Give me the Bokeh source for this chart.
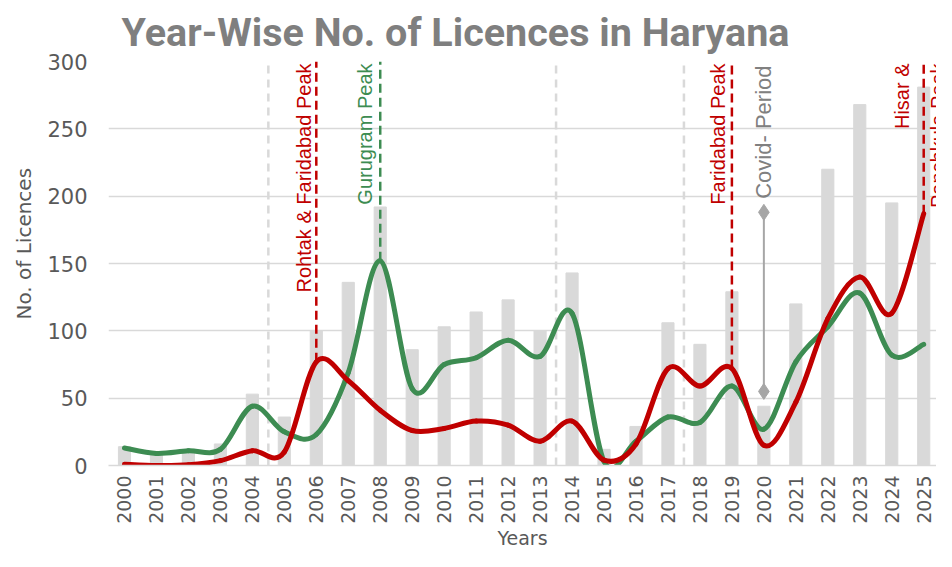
import numpy as np
from bokeh.plotting import figure
from bokeh.models import Range1d, FixedTicker, Label, ColumnDataSource, Title
from bokeh.embed import file_html
from bokeh.resources import INLINE

# ---------------- data ----------------
years = list(range(2000, 2026))
total_licences = [14, 10, 12, 16, 53, 36, 100, 136, 192, 86, 103, 114, 123,
                  100, 143, 12, 29, 106, 90, 129, 44, 120, 220, 268, 195, 281]
gurugram = [13, 9, 11, 12, 44, 25, 23, 69, 152, 57, 75, 80, 93,
            81, 113, 3, 18, 36, 32, 59, 27, 77, 103, 128, 82, 90]
faridabad = [1, 0, 0.5, 3.6, 11, 10, 77, 63, 41, 26, 27.5, 33, 30,
             18, 33, 4, 16, 72, 59, 72, 15, 47, 109, 140, 113, 187]

divider_years = [2004.5, 2013.5, 2017.5]
red_peak_years = [2006, 2019, 2025]
green_peak_years = [2008]
covid_year = 2020
covid_range = [55, 188]
y_ticks = [0, 50, 100, 150, 200, 250, 300]

RED = "#c00000"
GREEN = "#3d8c52"
BAR = "#d9d9d9"
TXT = "#595959"


def smooth(xs, ys):
    """Catmull-Rom style bezier segments through the data points."""
    n = len(xs)
    d = dict(x0=[], y0=[], x1=[], y1=[], cx0=[], cy0=[], cx1=[], cy1=[])
    for i in range(n - 1):
        a = max(i - 1, 0)
        b = min(i + 2, n - 1)
        d["x0"].append(xs[i]); d["y0"].append(ys[i])
        d["x1"].append(xs[i + 1]); d["y1"].append(ys[i + 1])
        d["cx0"].append(xs[i] + (xs[i + 1] - xs[a]) / 6)
        d["cy0"].append(ys[i] + (ys[i + 1] - ys[a]) / 6)
        d["cx1"].append(xs[i + 1] - (xs[b] - xs[i]) / 6)
        d["cy1"].append(ys[i + 1] - (ys[b] - ys[i]) / 6)
    return ColumnDataSource(d)


p = figure(width=936, height=551, output_backend="svg", toolbar_location=None,
           x_range=Range1d(1999.5, 2025.4), y_range=Range1d(0, 300),
           min_border_left=108, min_border_right=0, min_border_top=61,
           min_border_bottom=0)
p.outline_line_color = None
p.background_fill_color = "white"

p.title.text = "Year-Wise No. of Licences in Haryana"
p.title.text_font = "Roboto"
p.title.text_font_style = "bold"
p.title.text_font_size = "39.5px"
p.title.text_color = "#7f7f7f"
p.title.align = "left"
p.title.offset = 13
p.title.standoff = 11

# grid
p.xgrid.grid_line_color = None
p.ygrid.grid_line_color = BAR
p.ygrid.grid_line_width = 1.5
p.yaxis.ticker = FixedTicker(ticks=y_ticks)
p.xaxis.ticker = FixedTicker(ticks=years)

# axes
for ax in (p.xaxis, p.yaxis):
    ax.major_tick_line_color = None
    ax.minor_tick_line_color = None
    ax.major_tick_out = 0
    ax.major_label_text_font = "DejaVu Sans"
    ax.major_label_text_color = TXT
p.xaxis.major_label_text_font_size = "19px"
p.yaxis.major_label_text_font_size = "21px"
p.yaxis.axis_line_color = None
p.xaxis.axis_line_color = BAR
p.xaxis.axis_line_width = 1.5
p.xaxis.major_label_orientation = np.pi / 2
p.xaxis.major_label_standoff = 10
p.yaxis.major_label_standoff = 21

# axis titles
p.xaxis.axis_label = "Years"
p.xaxis.axis_label_standoff = 0
p.xaxis.axis_label_text_font = "DejaVu Sans"
p.xaxis.axis_label_text_font_size = "19px"
p.xaxis.axis_label_text_font_style = "normal"
p.xaxis.axis_label_text_color = TXT
p.add_layout(Title(text="No. of Licences", align="left", offset=146,
                   standoff=17, text_font="DejaVu Sans",
                   text_font_size="20px", text_font_style="normal",
                   text_color=TXT), "left")

# bars
p.vbar(x=years, top=total_licences, width=0.38, color=BAR)

# grey period dividers
p.segment(x0=divider_years, y0=[0] * len(divider_years), x1=divider_years,
          y1=[300] * len(divider_years), line_color=BAR, line_width=2.5,
          line_dash="8 6")

# smooth lines
p.bezier(x0="x0", y0="y0", x1="x1", y1="y1", cx0="cx0", cy0="cy0",
         cx1="cx1", cy1="cy1", source=smooth(years, gurugram),
         line_color=GREEN, line_width=5, line_cap="round")
p.bezier(x0="x0", y0="y0", x1="x1", y1="y1", cx0="cx0", cy0="cy0",
         cx1="cx1", cy1="cy1", source=smooth(years, faridabad),
         line_color=RED, line_width=5, line_cap="round")

# peak markers
red_peak_vals = [faridabad[years.index(y)] for y in red_peak_years]
green_peak_vals = [gurugram[years.index(y)] for y in green_peak_years]
p.segment(x0=red_peak_years, y0=red_peak_vals, x1=red_peak_years,
          y1=[300] * len(red_peak_years), line_color=RED, line_width=2.5,
          line_dash="9 5")
p.segment(x0=green_peak_years, y0=green_peak_vals, x1=green_peak_years,
          y1=[300] * len(green_peak_years), line_color=GREEN, line_width=2.5,
          line_dash="9 5")

# covid period
p.segment(x0=[covid_year], y0=[covid_range[0]], x1=[covid_year],
          y1=[covid_range[1]], line_color="#a6a6a6", line_width=2)
p.scatter(x=[covid_year] * 2, y=covid_range, marker="diamond", size=16,
          color="#a6a6a6")


def vlabel(x, text, color, baseline, xoff, size="20px", yoff=-2):
    p.add_layout(Label(x=x, y=300, text=text, angle=np.pi / 2,
                       text_align="right", text_baseline=baseline,
                       x_offset=xoff, y_offset=yoff,
                       text_font="Liberation Sans", text_font_size=size,
                       text_color=color))


vlabel(2006, "Rohtak & Faridabad Peak", RED, "bottom", -1)
vlabel(2008, "Gurugram Peak", GREEN, "bottom", -4)
vlabel(2019, "Faridabad Peak", RED, "bottom", -3)
vlabel(2020, "Covid- Period", "#808080", "middle", 0, size="22px", yoff=-4)
vlabel(2025, "Hisar &", RED, "bottom", -11)
vlabel(2025, "Panchkula Peak", RED, "top", 3)

open("out.html", "w").write(file_html(p, INLINE))
